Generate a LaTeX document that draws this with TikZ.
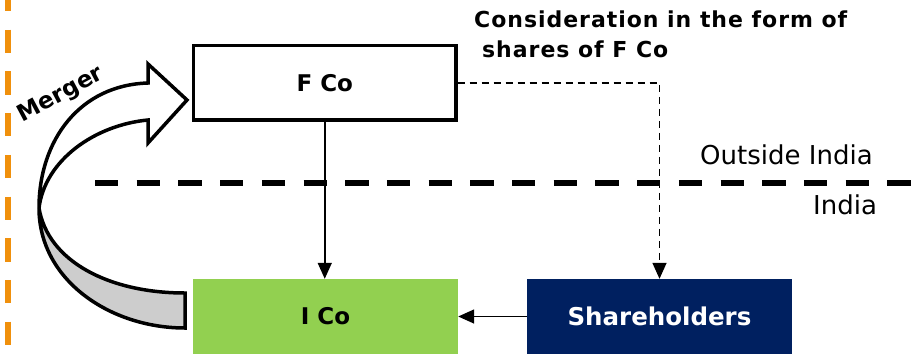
\documentclass[tikz,border=0pt]{standalone}
\usepackage{fontspec}
\setmainfont{DejaVu Sans}
\newfontfamily\widefont[LetterSpace=4.4]{DejaVu Sans}
\usetikzlibrary{arrows.meta}
\definecolor{icogreen}{HTML}{92D050}
\definecolor{shnavy}{HTML}{002060}
\definecolor{borderorange}{HTML}{F0900C}
\definecolor{twistgray}{HTML}{CDCDCD}

\begin{document}
\begin{tikzpicture}[x=1pt,y=-1pt,
  entity/.style={rectangle, inner sep=0pt,
    font=\bfseries\fontsize{23}{27}\selectfont},
  foreignco/.style={entity, draw, line width=3.3pt, fill=white,
    minimum width=262.5pt, minimum height=74.5pt},
  indianco/.style={entity, fill=icogreen,
    minimum width=265pt, minimum height=75pt},
  holders/.style={entity, fill=shnavy, text=white,
    font=\bfseries\fontsize{24.5}{28}\selectfont,
    minimum width=265pt, minimum height=75pt},
  link/.style={line width=1.5pt, -{Triangle[length=16pt, width=14pt]}},
  sharelink/.style={link, dash pattern=on 7pt off 5pt},
  frontier/.style={line width=6pt, dash pattern=on 23.3pt off 18.4pt},
  twist/.style={line width=3.5pt, line join=miter, draw=black},
  caption/.style={anchor=base west, inner sep=0pt,
    font=\widefont\bfseries\fontsize{22}{26}\selectfont},
  region/.style={anchor=base west, inner sep=0pt,
    font=\fontsize{26}{30}\selectfont}
]
\useasboundingbox (0,0) rectangle (918,354);

% jurisdiction borders
\draw[frontier, borderorange] (8,-12) -- (8,360);
\draw[frontier, black] (95,183) -- (918,183);

% entities
\node[foreignco] (fco) at (324.75,82.75) {F Co};
\node[indianco]  (ico) at (325.5,316.5) {I Co};
\node[holders]   (sh)  at (659.5,316.5) {Shareholders};

% flows
\draw[link] (fco.south) -- (fco.south |- ico.north);
\draw[sharelink] (fco.east) -| (sh.north);
\draw[link] (sh.west) -- (ico.east);

% region and flow labels
\node[caption] (cons1) at (474,27) {Consideration in the form of};
\node[caption] (cons2) at (482,57) {shares of F Co};
\node[region] (outside) at (700,164) {Outside India};
\node[region] (inside) at (813,214) {India};

% twisted merger arrow: back face
\filldraw[twist, fill=twistgray]
  (39,208) .. controls (48,262) and (110,293) .. (185,293)
  -- (185,328)
  .. controls (110,328) and (39,280) .. (39,208) -- cycle;
% front face with head
\filldraw[twist, fill=white]
  (148,83) .. controls (80,85) and (39,140) .. (39,208)
  .. controls (45,160) and (95,125) .. (148,120)
  -- (148,143) -- (187,100) -- (148,64) -- cycle;
\node[rotate=28, inner sep=0pt, font=\bfseries\fontsize{23}{27}\selectfont]
  (merger) at (61,95) {Merger};
\end{tikzpicture}
\end{document}
